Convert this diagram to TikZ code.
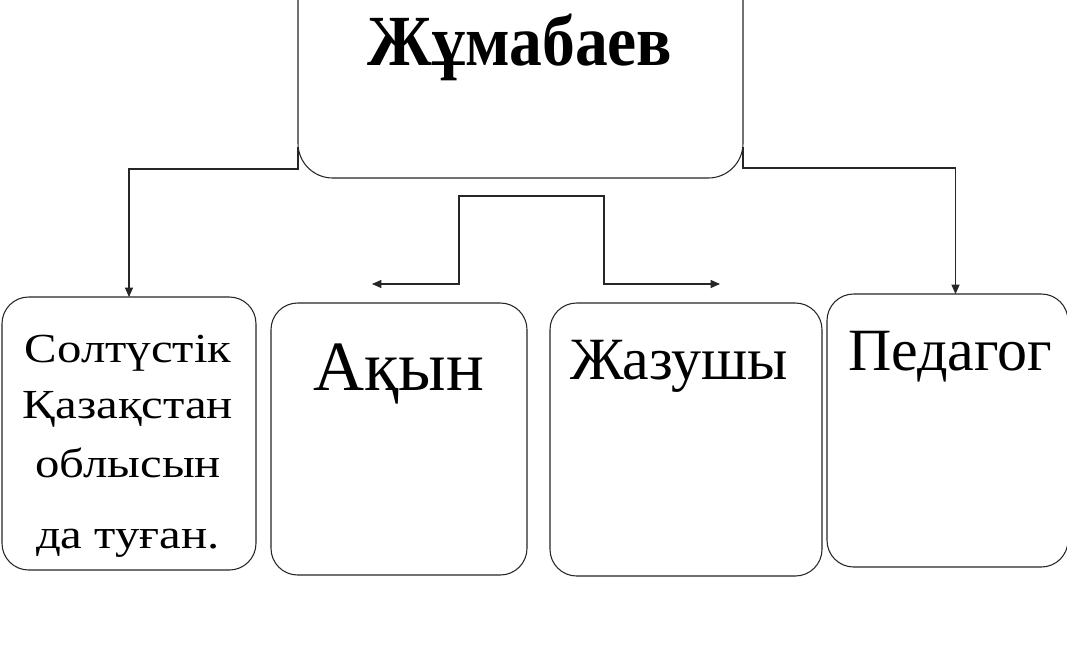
\documentclass[tikz,border=0pt]{standalone}
\usepackage{fontspec}
\setmainfont{Liberation Serif}
\newfontfamily\widefont[FakeStretch=1.18]{Liberation Serif}
\newfontfamily\titlefont[FakeStretch=0.91]{Liberation Serif}
\usetikzlibrary{arrows.meta,positioning}

\begin{document}
\begin{tikzpicture}[
  x=0.75pt, y=-0.75pt,
  card/.style={draw=black!85, line width=0.8pt, rounded corners=20pt, inner sep=0pt, outer sep=0pt},
  conn/.style={draw=black!85, line width=0.8pt},
  arr/.style={conn, -{Triangle[length=7pt, width=6pt]}},
  word/.style={inner sep=0pt, anchor=base}
]
\fill[white] (0,0) rectangle (1067,664);
\useasboundingbox (0,0) rectangle (1067,664);
% top box, cut by the upper edge
\node[card, rounded corners=26pt, minimum width=333.75pt, minimum height=202.5pt] (name) at (520.5,43) {};
\node[word, font=\titlefont\fontsize{54}{60}\selectfont\bfseries] (nameT) at (520,65) {Жұмабаев};
% lower boxes
\node[card, minimum width=190.5pt, minimum height=204.75pt] (born) at (129,433.5) {};
\node[card, minimum width=192pt, minimum height=204pt] (poet) at (399,439) {};
\node[card, minimum width=204pt, minimum height=204.75pt] (writer) at (686,439.5) {};
\node[card, minimum width=180.75pt, minimum height=204.75pt] (teacher) at (947.5,430.5) {};
\foreach \t/\y [count=\i] in {Солтүстік/362, Қазақстан/418, облысын/477, да туған./548}
  \node[word, font=\widefont\fontsize{31}{36}\selectfont] (bornT\i) at (128,\y) {\t};
\node[word, anchor=base west, font=\fontsize{53}{60}\selectfont] (poetT) at (313,390) {Ақын};
\node[word, anchor=base west, font=\fontsize{45}{50}\selectfont] (writerT) at (570,379) {Жазушы};
\node[word, anchor=base west, font=\fontsize{45}{50}\selectfont] (teacherT) at (848,370) {Педагог};
% connectors
\coordinate (fork) at (531,196);
\coordinate (poetTip) at (372,284);
\coordinate (writerTip) at (720,284);
\draw[arr] (name.south west) ++(0,-31) -- ++(0,22) -| (born.north);
\draw[arr] (name.south east) ++(0,-31) -- ++(0,21) -| ([xshift=6pt]teacher.north);
\draw[arr] (fork) -- ++(-72,0) |- (poetTip);
\draw[arr] (fork) -- ++(73,0) |- (writerTip);
\end{tikzpicture}
\end{document}
